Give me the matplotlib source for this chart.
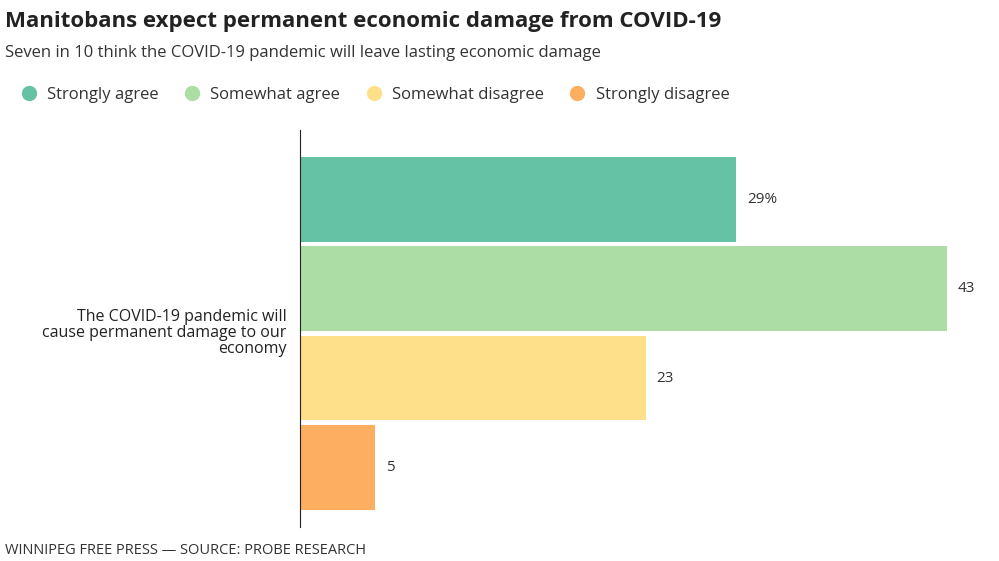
import matplotlib
matplotlib.use("Agg")
import matplotlib.pyplot as plt
from matplotlib.lines import Line2D

plt.rcParams['font.family'] = ['Open Sans', 'DejaVu Sans']

categories = ["Strongly agree", "Somewhat agree", "Somewhat disagree", "Strongly disagree"]
values = [29, 43, 23, 5]
labels = ["29%", "43", "23", "5"]
colors = ["#66c2a5", "#abdda4", "#fee08b", "#fdae61"]
question = "The COVID-19 pandemic will\ncause permanent damage to our\neconomy"

fig = plt.figure(figsize=(9.99, 5.61), dpi=100)
W, H = 999, 561
ax = fig.add_axes([300 / W, 1 - 527 / H, 690 / W, 397 / H])

pos = list(range(len(values)))
ax.barh(pos, values, height=0.95, color=colors)
for p, v, t in zip(pos, values, labels):
    ax.text(v + 0.7, p, t, va='center', ha='left', fontsize=11, color='#333333')

ax.set_xlim(0, 690 / 15.05)
ax.set_ylim(3.67, -0.78)
for s in ['top', 'right', 'bottom']:
    ax.spines[s].set_visible(False)
ax.spines['left'].set_color('#222222')
ax.set_xticks([])
ax.set_yticks([])
ax.text(-0.9, 1.5, question, ha='right', va='center', fontsize=11.5,
        color='#222222', linespacing=1.0)

fig.text(5 / W, 1 - 22 / H, "Manitobans expect permanent economic damage from COVID-19",
         fontsize=16, fontweight='bold', va='center', color='#222222')
fig.text(5 / W, 1 - 53 / H, "Seven in 10 think the COVID-19 pandemic will leave lasting economic damage",
         fontsize=12, va='center', color='#333333')

handles = [Line2D([], [], marker='o', linestyle='', markersize=10, color=c) for c in colors]
fig.legend(handles, categories, loc='center left', bbox_to_anchor=(-0.003, 1 - 95 / H),
           ncol=4, frameon=False, fontsize=12, handletextpad=0.1, columnspacing=1.0,
           labelcolor='#333333')

fig.text(5 / W, 1 - 550 / H, "WINNIPEG FREE PRESS — SOURCE: PROBE RESEARCH",
         fontsize=10.5, va='center', color='#333333')

fig.savefig("out.png", dpi=100)
